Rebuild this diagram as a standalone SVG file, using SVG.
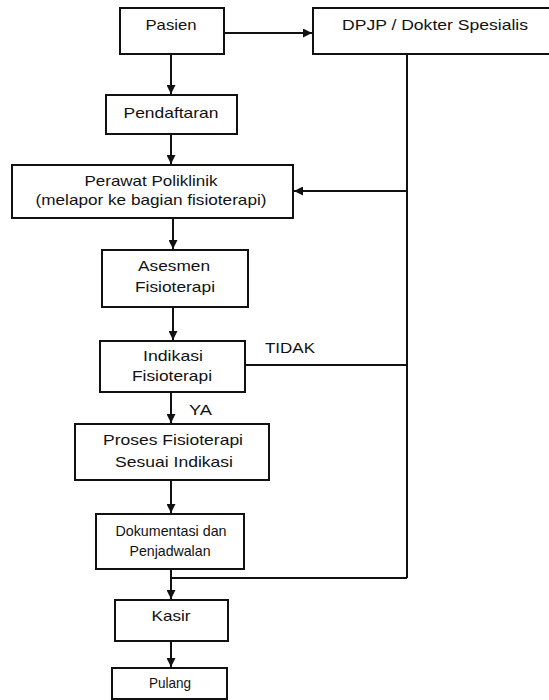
<svg xmlns="http://www.w3.org/2000/svg" width="549" height="700" viewBox="0 0 549 700">
<style>
.box{fill:#fff;stroke:#111;stroke-width:2}
.ln{fill:none;stroke:#111;stroke-width:2}
text{font-family:"Liberation Sans",Arial,sans-serif;font-size:15px;fill:#111;text-anchor:middle}
.lab{text-anchor:start}
</style>
<defs>
<marker id="ah" viewBox="0 0 10 10" refX="10" refY="5" markerWidth="4.5" markerHeight="4.5" orient="auto" markerUnits="strokeWidth">
<path d="M0,0 L10,5 L0,10 z" fill="#111"/>
</marker>
</defs>
<rect width="549" height="700" fill="#fff"/>
<g id="connectors">
<line class="ln" x1="224" y1="33" x2="312" y2="33" marker-end="url(#ah)"/>
<line class="ln" x1="171" y1="54" x2="171" y2="94" marker-end="url(#ah)"/>
<line class="ln" x1="171" y1="134" x2="171" y2="164" marker-end="url(#ah)"/>
<line class="ln" x1="407" y1="54" x2="407" y2="578"/>
<line class="ln" x1="407" y1="191" x2="294" y2="191" marker-end="url(#ah)"/>
<line class="ln" x1="173" y1="218" x2="173" y2="249" marker-end="url(#ah)"/>
<line class="ln" x1="173" y1="307" x2="173" y2="340" marker-end="url(#ah)"/>
<line class="ln" x1="245" y1="365" x2="407" y2="365"/>
<line class="ln" x1="171" y1="392" x2="171" y2="423" marker-end="url(#ah)"/>
<line class="ln" x1="171" y1="480" x2="171" y2="513" marker-end="url(#ah)"/>
<line class="ln" x1="407" y1="578" x2="171" y2="578"/>
<line class="ln" x1="171" y1="569" x2="171" y2="599" marker-end="url(#ah)"/>
<line class="ln" x1="171" y1="641" x2="171" y2="667" marker-end="url(#ah)"/>
<text class="lab" x="265" y="353" textLength="50" lengthAdjust="spacingAndGlyphs">TIDAK</text>
<text class="lab" x="189" y="415" textLength="23" lengthAdjust="spacingAndGlyphs">YA</text>
</g>
<g id="pasien">
<rect class="box" x="120" y="8" width="104" height="46"/>
<text x="171" y="30" textLength="51" lengthAdjust="spacingAndGlyphs">Pasien</text>
</g>
<g id="dpjp">
<rect class="box" x="313" y="8" width="240" height="46"/>
<text x="435" y="30" textLength="186" lengthAdjust="spacingAndGlyphs">DPJP / Dokter Spesialis</text>
</g>
<g id="pendaftaran">
<rect class="box" x="106" y="95" width="131" height="39"/>
<text x="171" y="118" textLength="95" lengthAdjust="spacingAndGlyphs">Pendaftaran</text>
</g>
<g id="perawat">
<rect class="box" x="12" y="165" width="281" height="53"/>
<text x="151" y="186" textLength="133" lengthAdjust="spacingAndGlyphs">Perawat Poliklinik</text>
<text x="151" y="205" textLength="231" lengthAdjust="spacingAndGlyphs">(melapor ke bagian fisioterapi)</text>
</g>
<g id="asesmen">
<rect class="box" x="102" y="250" width="146" height="57"/>
<text x="174" y="271" textLength="72" lengthAdjust="spacingAndGlyphs">Asesmen</text>
<text x="175" y="292" textLength="80" lengthAdjust="spacingAndGlyphs">Fisioterapi</text>
</g>
<g id="indikasi">
<rect class="box" x="100" y="341" width="145" height="51"/>
<text x="173" y="361" textLength="60" lengthAdjust="spacingAndGlyphs">Indikasi</text>
<text x="172" y="381" textLength="80" lengthAdjust="spacingAndGlyphs">Fisioterapi</text>
</g>
<g id="proses">
<rect class="box" x="75" y="424" width="194" height="56"/>
<text x="173" y="445" textLength="140" lengthAdjust="spacingAndGlyphs">Proses Fisioterapi</text>
<text x="174" y="467" textLength="118" lengthAdjust="spacingAndGlyphs">Sesuai Indikasi</text>
</g>
<g id="dokumentasi">
<rect class="box" x="96" y="514" width="148" height="55"/>
<text x="171" y="536" font-size="13" textLength="111" lengthAdjust="spacingAndGlyphs">Dokumentasi dan</text>
<text x="170" y="556" font-size="13" textLength="81" lengthAdjust="spacingAndGlyphs">Penjadwalan</text>
</g>
<g id="kasir">
<rect class="box" x="115" y="600" width="113" height="41"/>
<text x="171" y="621" textLength="39" lengthAdjust="spacingAndGlyphs">Kasir</text>
</g>
<g id="pulang">
<rect class="box" x="112" y="668" width="115" height="31"/>
<text x="170" y="688" textLength="42" lengthAdjust="spacingAndGlyphs">Pulang</text>
</g>
</svg>
